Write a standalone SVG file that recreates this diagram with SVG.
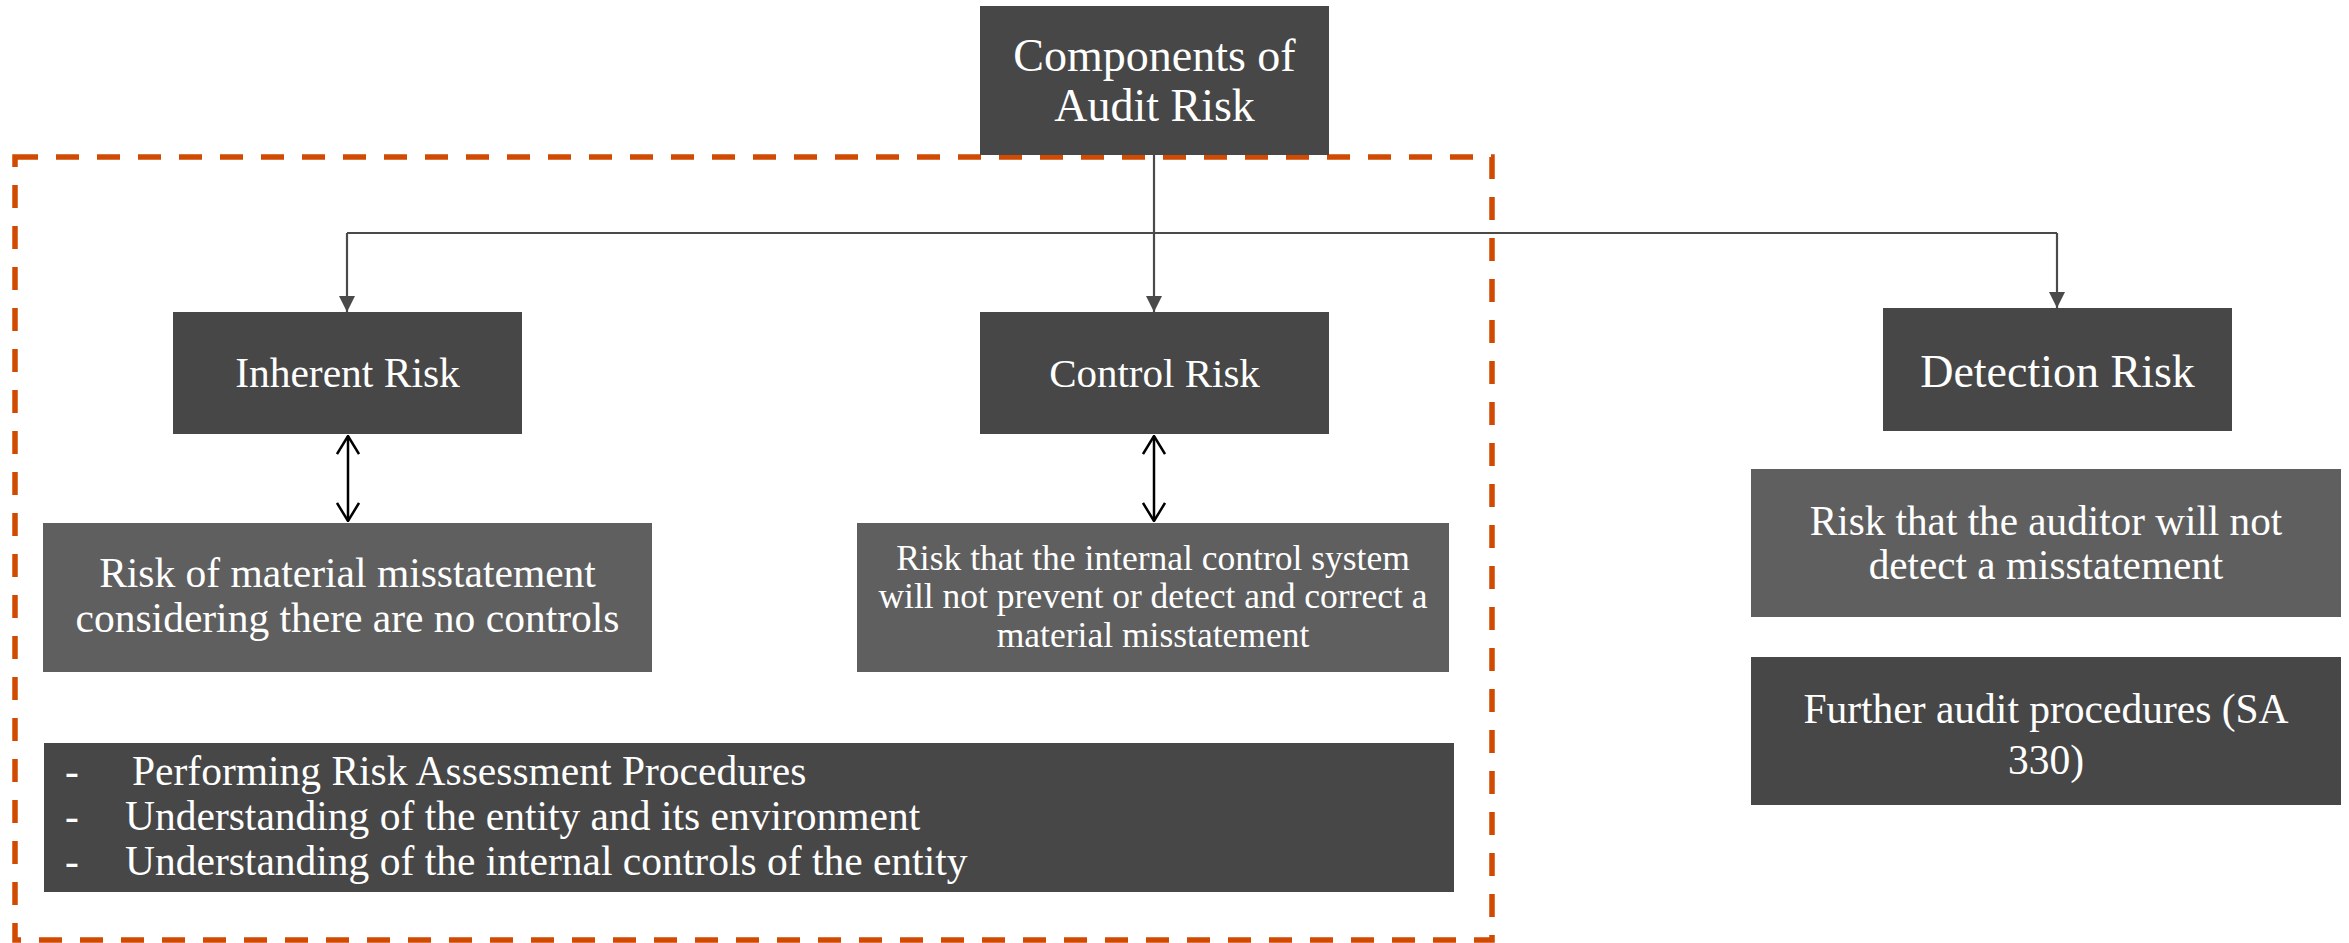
<svg xmlns="http://www.w3.org/2000/svg" width="2349" height="943" viewBox="0 0 2349 943">
<defs>
<style>
.dark{fill:#474747}
.light{fill:#5f5f5f}
.t{font-family:"Liberation Serif","Times New Roman",serif;fill:#ffffff}
.c{text-anchor:middle}
.conn{fill:none;stroke:#4a4a4a;stroke-width:2.2}
.dbl{fill:none;stroke:#000000;stroke-width:2.5}
</style>
<marker id="tri" viewBox="0 0 16 16" refX="16" refY="8" markerWidth="16" markerHeight="16" markerUnits="userSpaceOnUse" orient="auto">
<path d="M0,0 L16,8 L0,16 Z" fill="#4a4a4a"/>
</marker>
<marker id="vee" viewBox="0 0 20 24" refX="19" refY="12" markerWidth="20" markerHeight="24" markerUnits="userSpaceOnUse" orient="auto-start-reverse">
<path d="M1,1 L19,12 L1,23" fill="none" stroke="#000000" stroke-width="2.5"/>
</marker>
</defs>
<rect width="2349" height="943" fill="#ffffff"/>

<g id="scope-box">
<rect x="15" y="157" width="1477" height="783" fill="none" stroke="#D04A02" stroke-width="5.5" stroke-dasharray="23 18"/>
</g>

<g id="connectors">
<path class="conn" d="M1154,155 V233"/>
<path class="conn" d="M347,233 H2057"/>
<path class="conn" d="M347,233 V312" marker-end="url(#tri)"/>
<path class="conn" d="M1154,233 V312" marker-end="url(#tri)"/>
<path class="conn" d="M2057,233 V308" marker-end="url(#tri)"/>
<path class="dbl" d="M348,436 V521" marker-start="url(#vee)" marker-end="url(#vee)"/>
<path class="dbl" d="M1154,436 V521" marker-start="url(#vee)" marker-end="url(#vee)"/>
</g>

<g id="components">
<rect class="dark" x="980" y="6" width="349" height="149"/>
<text class="t c" x="1154.5" y="71" font-size="46">Components of</text>
<text class="t c" x="1154.5" y="121" font-size="46">Audit Risk</text>
</g>

<g id="inherent-risk">
<rect class="dark" x="173" y="312" width="349" height="122"/>
<text class="t c" x="347.5" y="387" font-size="41.5">Inherent Risk</text>
</g>

<g id="control-risk">
<rect class="dark" x="980" y="312" width="349" height="122"/>
<text class="t c" x="1154.5" y="387" font-size="41">Control Risk</text>
</g>

<g id="detection-risk">
<rect class="dark" x="1883" y="308" width="349" height="123"/>
<text class="t c" x="2057.5" y="387" font-size="46">Detection Risk</text>
</g>

<g id="inherent-desc">
<rect class="light" x="43" y="523" width="609" height="149"/>
<text class="t c" x="347.5" y="587" font-size="41.5">Risk of material misstatement</text>
<text class="t c" x="347.5" y="632" font-size="41.5">considering there are no controls</text>
</g>

<g id="control-desc">
<rect class="light" x="857" y="523" width="592" height="149"/>
<text class="t c" x="1153" y="570" font-size="35.5">Risk that the internal control system</text>
<text class="t c" x="1153" y="608" font-size="35.5">will not prevent or detect and correct a</text>
<text class="t c" x="1153" y="647" font-size="35.5">material misstatement</text>
</g>

<g id="detection-desc">
<rect class="light" x="1751" y="469" width="590" height="148"/>
<text class="t c" x="2046" y="535" font-size="41.2">Risk that the auditor will not</text>
<text class="t c" x="2046" y="579" font-size="41.2">detect a misstatement</text>
</g>

<g id="further-procedures">
<rect class="dark" x="1751" y="657" width="590" height="148"/>
<text class="t c" x="2046" y="723" font-size="41.5">Further audit procedures (SA</text>
<text class="t c" x="2046" y="774" font-size="41.5">330)</text>
</g>

<g id="risk-assessment">
<rect class="dark" x="44" y="743" width="1410" height="149"/>
<text class="t" x="65" y="785" font-size="41.5">-</text>
<text class="t" x="132" y="785" font-size="41.5">Performing Risk Assessment Procedures</text>
<text class="t" x="65" y="830" font-size="41.5">-</text>
<text class="t" x="125" y="830" font-size="41.5">Understanding of the entity and its environment</text>
<text class="t" x="65" y="875" font-size="41.5">-</text>
<text class="t" x="125" y="875" font-size="41.5">Understanding of the internal controls of the entity</text>
</g>
</svg>
